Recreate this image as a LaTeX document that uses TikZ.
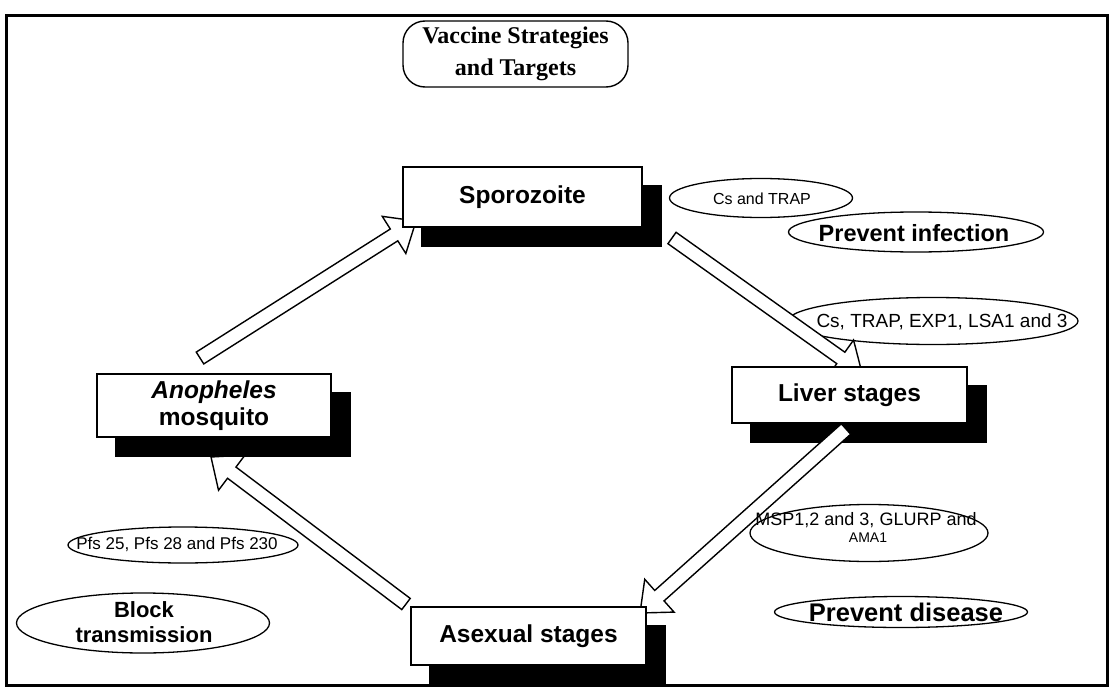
\documentclass[tikz,border=0pt]{standalone}
\usepackage{fontspec}
\setmainfont{Liberation Serif}
\setsansfont{Liberation Sans}
\usetikzlibrary{calc,shapes.geometric}
\pgfdeclarelayer{under}
\pgfdeclarelayer{mid}
\pgfsetlayers{under,mid,main}

% hollow block arrow from #1 (tail) to #2 (tip)
\newcommand\blockarrow[2]{%
  \coordinate (hb) at ($(#2)!26pt!(#1)$);
  \draw[body] ($(#1)!7pt!90:(#2)$) -- ($(hb)!7pt!90:(#2)$) -- ($(hb)!22pt!90:(#2)$)
    -- (#2) -- ($(hb)!22pt!-90:(#2)$) -- ($(hb)!7pt!-90:(#2)$) -- ($(#1)!7pt!-90:(#2)$) -- cycle;}

\begin{document}
\begin{tikzpicture}[x=1pt,y=-1pt,
  stage/.style={draw, line width=1.6pt, fill=white, rectangle, inner sep=0pt, align=center,
    font=\sffamily\bfseries\fontsize{24.5}{27}\selectfont},
  oval/.style={draw, ellipse, line width=1.3pt, inner sep=0pt},
  small/.style={font=\sffamily\fontsize{17}{18}\selectfont, inner sep=0pt, align=center},
  goal/.style={font=\sffamily\bfseries\fontsize{23}{25}\selectfont, inner sep=0pt, align=center},
  body/.style={draw, line width=1.4pt, fill=white, line join=miter},
  shade/.style={fill=black}]

\useasboundingbox (0,0) rectangle (1116,690);
\draw[line width=3pt] (6,16) rectangle (1107,685);

% heading
\node[draw, rounded corners=22pt, line width=1.4pt, minimum width=225, minimum height=66,
  inner sep=0pt, align=center, font=\bfseries\fontsize{24}{32}\selectfont]
  (title) at (515.5,54) {Vaccine Strategies\\and Targets};

% life-cycle stages
\node[stage, minimum width=239, minimum height=60] (spor)  at (522.5,197) {Sporozoite};
\node[stage, minimum width=235, minimum height=56] (liver) at (849.5,395) {Liver stages};
\node[stage, minimum width=235, minimum height=58] (asex)  at (528.5,636) {Asexual stages};
\node[stage, minimum width=234, minimum height=63] (mosq)  at (214,405.5) {\textit{Anopheles}\\mosquito};

% arrow ends
\coordinate (a1s) at (200,358); \coordinate (a1e) at (416,221);
\coordinate (a2s) at (672,238); \coordinate (a2e) at (862,373);
\coordinate (a3s) at (846,429); \coordinate (a3e) at (640,613);
\coordinate (a4s) at (406,604); \coordinate (a4e) at (211,457);

\begin{pgfonlayer}{under}
  % outlines of the antigen and aim ovals
  \node[oval, minimum width=183, minimum height=39] (o1) at (761,198) {};
  \node[oval, minimum width=255, minimum height=40] (o2) at (916,232) {};
  \node[oval, minimum width=290, minimum height=47] (o3) at (933,321) {};
  \node[oval, minimum width=238, minimum height=57] (o4) at (869,533) {};
  \node[oval, minimum width=253, minimum height=31] (o5) at (901,612) {};
  \node[oval, minimum width=230, minimum height=36] (o6) at (183,545) {};
  \node[oval, minimum width=253, minimum height=60] (o7) at (143,623) {};
  % cycle arrows and box shadows
  \blockarrow{a1s}{a1e}
  \blockarrow{a2s}{a2e}
  \blockarrow{a4s}{a4e}
  \foreach \b in {spor,liver,asex,mosq}
    \fill[shade] ([shift={(19,19)}]\b.south west) rectangle ([shift={(19,19)}]\b.north east);
\end{pgfonlayer}
\begin{pgfonlayer}{mid}
  \blockarrow{a3s}{a3e}
\end{pgfonlayer}

% antigens and aims
\node[small, font=\sffamily\fontsize{16}{17}\selectfont] (t1) at (762,199) {Cs and TRAP};
\node[goal, font=\sffamily\bfseries\fontsize{23.5}{25}\selectfont] (t2) at (914,233) {Prevent infection};
\node[small, font=\sffamily\fontsize{19}{20}\selectfont] (t3) at (942,322) {Cs, TRAP, EXP1, LSA1 and 3};
\node[small, font=\sffamily\fontsize{18}{19}\selectfont] (t4) at (866,520.5) {MSP1,2 and 3, GLURP and};
\node[small, font=\sffamily\fontsize{14}{15}\selectfont] (t4b) at (868,538) {AMA1};
\node[goal, font=\sffamily\bfseries\fontsize{25.5}{27}\selectfont] (t5) at (906,612) {Prevent disease};
\node[small] (t6) at (177,544) {Pfs 25, Pfs 28 and Pfs 230};
\node[goal, font=\sffamily\bfseries\fontsize{22}{25}\selectfont] (t7) at (144,622) {Block\\transmission};

\end{tikzpicture}
\end{document}
